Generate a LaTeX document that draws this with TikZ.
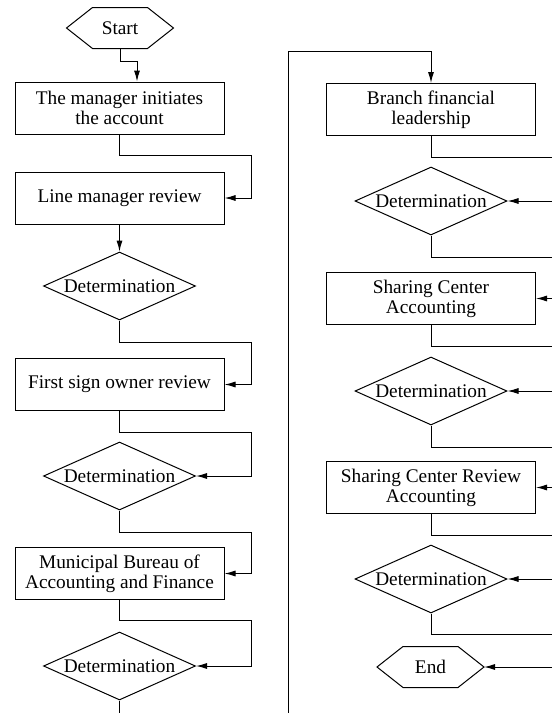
\documentclass[tikz,border=0pt]{standalone}
\usepackage{fontspec}
\setmainfont{Liberation Serif}
\usetikzlibrary{shapes.geometric,arrows.meta,calc}

\begin{document}
\begin{tikzpicture}[x=0.5pt,y=-0.5pt,line width=0.5pt,
  every node/.style={font=\fontsize{9.65}{10}\selectfont},
  stepbox/.style={draw,rectangle,minimum width=104.5pt,minimum height=26pt,align=center,inner sep=1pt},
  decide/.style={draw,diamond,minimum width=76pt,minimum height=34pt,inner sep=0pt},
  term/.style={rectangle,minimum width=53pt,minimum height=20pt,inner sep=0pt},
  link/.style={-{Latex[length=5.5pt,width=3pt]}}]
\newcommand{\hexside}[1]{\draw (#1.west) -- ($(#1.north west)+(26,0)$) -- ($(#1.north east)+(-26,0)$) -- (#1.east) -- ($(#1.south east)+(-26,0)$) -- ($(#1.south west)+(26,0)$) -- cycle;}

\useasboundingbox (0,0) rectangle (552,713);
\clip (0,0) rectangle (552,713);

\node[term] (start) at (120,28) {Start};
\node[stepbox] (n1) at (119.5,108) {The manager initiates\\the account};
\node[stepbox] (n2) at (119.5,198) {Line manager review};
\node[decide] (d1) at (119.5,286) {\makebox[0pt]{Determination}};
\node[stepbox] (n3) at (119.5,384.5) {First sign owner review};
\node[decide] (d2) at (119.5,476) {\makebox[0pt]{Determination}};
\node[stepbox] (n4) at (119.5,573.5) {Municipal Bureau of\\Accounting and Finance};
\node[decide] (d3) at (119.5,666) {\makebox[0pt]{Determination}};

\node[stepbox] (n5) at (431,109.5) {Branch financial\\leadership};
\node[decide] (d4) at (431,201) {\makebox[0pt]{Determination}};
\node[stepbox] (n6) at (431,298.5) {Sharing Center\\Accounting};
\node[decide] (d5) at (431,391) {\makebox[0pt]{Determination}};
\node[stepbox] (n7) at (431,487.5) {Sharing Center Review\\Accounting};
\node[decide] (d6) at (431,579) {\makebox[0pt]{Determination}};
\node[term] (stop) at (430.5,667) {End};

\hexside{start}
\hexside{stop}

\coordinate (j0) at (137,61);
\coordinate (rl) at (251,0);
\coordinate (rr) at (560,0);
\coordinate (lb) at (288,713);
\coordinate (tp) at (288,51);

\draw[link] (start.south) |- (j0) -- (j0 |- n1.north);
\draw[link] (n1.south) -- ++(0,21) -| (n2.east -| rl) -- (n2.east);
\draw[link] (n2.south) -- (d1.north);
\draw[link] (d1.south) -- ++(0,22) -| (n3.east -| rl) -- (n3.east);
\draw[link] (n3.south) -- ++(0,21) -| (d2.east -| rl) -- (d2.east);
\draw[link] (d2.south) -- ++(0,22) -| (n4.east -| rl) -- (n4.east);
\draw[link] (n4.south) -- ++(0,20) -| (d3.east -| rl) -- (d3.east);
\draw (d3.south) -- (d3.south |- lb);

\draw[link] (lb) -- (tp) -| (n5.north);
\draw[link] (n5.south) -- ++(0,21) -| (d4.east -| rr) -- (d4.east);
\draw[link] (d4.south) -- ++(0,22) -| (n6.east -| rr) -- (n6.east);
\draw[link] (n6.south) -- ++(0,21) -| (d5.east -| rr) -- (d5.east);
\draw[link] (d5.south) -- ++(0,22) -| (n7.east -| rr) -- (n7.east);
\draw[link] (n7.south) -- ++(0,21) -| (d6.east -| rr) -- (d6.east);
\draw[link] (d6.south) -- ++(0,21) -| (stop.east -| rr) -- (stop.east);
\end{tikzpicture}
\end{document}
